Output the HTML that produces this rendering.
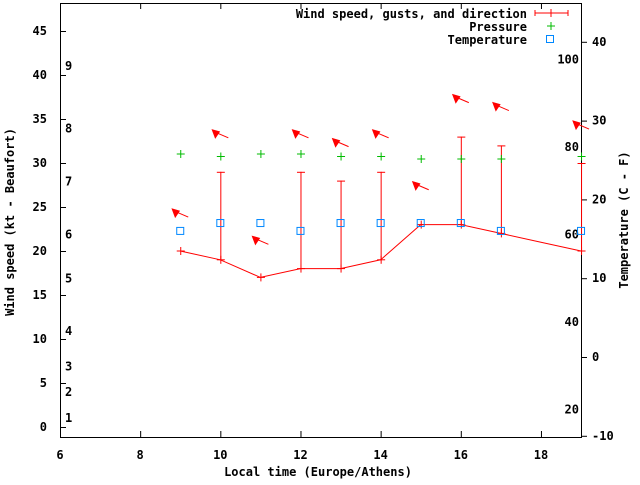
<!DOCTYPE html>
<html><head><meta charset="utf-8">
<style>
body{margin:0;background:#fff;}
svg text{font-family:"DejaVu Sans Mono","Liberation Mono",monospace;font-weight:bold;font-size:12px;fill:#000;}
</style></head>
<body>
<svg id="chart" width="640" height="480" viewBox="0 0 640 480" xmlns="http://www.w3.org/2000/svg">
<g id="axes"></g>
<g id="marks"></g>
<text x="14" y="222" transform="rotate(-90 14 222)" text-anchor="middle">Wind speed (kt - Beaufort)</text>
<text x="628" y="220" transform="rotate(-90 628 220)" text-anchor="middle">Temperature (C - F)</text>
<text x="318" y="476" text-anchor="middle">Local time (Europe/Athens)</text>
<g>
<text x="527" y="18" text-anchor="end">Wind speed, gusts, and direction</text>
<g><line x1="535" y1="13" x2="568" y2="13" stroke="#f00"/><line x1="535" y1="10" x2="535" y2="16" stroke="#f00"/><line x1="568" y1="10" x2="568" y2="16" stroke="#f00"/><line x1="551" y1="9" x2="551" y2="17" stroke="#f00"/></g>
<text x="527" y="31" text-anchor="end">Pressure</text>
<g><line x1="547" y1="26" x2="555" y2="26" stroke="#0b0"/><line x1="551" y1="22" x2="551" y2="30" stroke="#0b0"/></g>
<text x="527" y="44" text-anchor="end">Temperature</text>
<rect x="546.5" y="35.5" width="7" height="7" fill="none" stroke="#08f"/>
</g>
</svg>
<script>
const hours=[9,10,11,12,13,14,15,16,17,18,19];
const windSpeed=[20,19,17,18,18,19,23,23,22,21,20];
const windGust=[20,29,17,29,28,29,23,33,32,null,30];
const arrowLevel=[24.2,33.2,21.1,33.2,32.2,33.2,27.3,37.2,36.3,null,34.2];
const pressure=[1016,1015,1016,1016,1015,1015,1014,1014,1014,null,1015];
const temperature=[16,17,17,16,17,17,17,17,16,null,16];
const xTicks=[6,8,10,12,14,16,18];
const yTicks=[0,5,10,15,20,25,30,35,40,45];
const y2Ticks=[-10,0,10,20,30,40];
const fTicks=[20,40,60,80,100];
const beaufort=[[1,1],[2,4.0],[3,6.9],[4,10.9],[5,16.9],[6,21.9],[7,27.9],[8,33.9],[9,41.0]];

const L=60,R=581,T=3,B=437;
const xs=h=>L+(h-6)*40.08;
const ys=v=>427-v*8.8;
const yc=c=>357-c*7.88;
const yp=p=>154+(1016-p)*2.5;
const NS="http://www.w3.org/2000/svg";
function mk(parent,tag,attrs){const e=document.createElementNS(NS,tag);for(const k in attrs)e.setAttribute(k,attrs[k]);parent.appendChild(e);return e;}
const ax=document.getElementById('axes'),mg=document.getElementById('marks');

let f=mk(ax,'rect',{x:L+0.5,y:T+0.5,width:R-L,height:B-T,fill:'none',stroke:'#000'});


xTicks.forEach(t=>{const x=xs(t)+0.5;
 mk(ax,'line',{x1:x,y1:B,x2:x,y2:B-6,stroke:'#000'});
 mk(ax,'line',{x1:x,y1:T,x2:x,y2:T+6,stroke:'#000'});
 const tx=mk(ax,'text',{x:xs(t),y:459,'text-anchor':'middle'});tx.textContent=t;
 
 });
yTicks.forEach(t=>{const y=ys(t)+0.5;
 mk(ax,'line',{x1:L,y1:y,x2:L+6,y2:y,stroke:'#000'});
 const tx=mk(ax,'text',{x:47,y:ys(t)+4,'text-anchor':'end'});tx.textContent=t;
 
 });
y2Ticks.forEach(t=>{const y=yc(t)+0.5;
 mk(ax,'line',{x1:R,y1:y,x2:R+6,y2:y,stroke:'#000'});
 const tx=mk(ax,'text',{x:592,y:yc(t)+4,'text-anchor':'start'});tx.textContent=t;
 
 });
fTicks.forEach(t=>{const c=(t-32)*5/9;
 const tx=mk(ax,'text',{x:579,y:yc(c)+4,'text-anchor':'end'});tx.textContent=t;
 
 });
beaufort.forEach(b=>{
 const tx=mk(ax,'text',{x:65,y:ys(b[1])+4});tx.textContent=b[0];
 
 });

// wind speed line
const pts=hours.map((h,i)=>xs(h)+','+ys(windSpeed[i])).join(' ');
const ln=mk(mg,'polyline',{points:pts,fill:'none',stroke:'#f00'});


hours.forEach((h,i)=>{
 const x=xs(h)+0.5,y=ys(windSpeed[i]);
 if(h!==18){const g=mk(mg,'g',{stroke:'#f00'});
  
  
  mk(g,'line',{x1:x-4,y1:y,x2:x+4,y2:y});mk(g,'line',{x1:x,y1:y-4,x2:x,y2:y+4});}
 if(windGust[i]!==null&&windGust[i]>windSpeed[i]){
  const gy=ys(windGust[i]);const g=mk(mg,'g',{stroke:'#f00'});
  
  
  mk(g,'line',{x1:x,y1:gy,x2:x,y2:y});mk(g,'line',{x1:x-4,y1:gy+0.5,x2:x+4,y2:gy+0.5});}
 if(arrowLevel[i]!==null){
  const ay=ys(arrowLevel[i]),cx=xs(h);
  const g=mk(mg,'g',{fill:'#f00',stroke:'#f00'});
  
  
  mk(g,'line',{x1:cx-6,y1:ay-3,x2:cx+8,y2:ay+3});
  mk(g,'polygon',{points:`${cx-8},${ay-5} ${cx-1},${ay-3} ${cx-5},${ay+3}`});}
 if(pressure[i]!==null){const py=yp(pressure[i]);
  const g=mk(mg,'g',{stroke:'#0b0'});
  
  
  mk(g,'line',{x1:x-4,y1:py,x2:x+4,y2:py});mk(g,'line',{x1:x,y1:py-4,x2:x,y2:py+4});}
 if(temperature[i]!==null){const ty=yc(temperature[i]);
  const r=mk(mg,'rect',{x:xs(h)-3.5,y:ty-3.5,width:7,height:7,fill:'none',stroke:'#08f'});
  
  }
});
</script>
</body></html>
